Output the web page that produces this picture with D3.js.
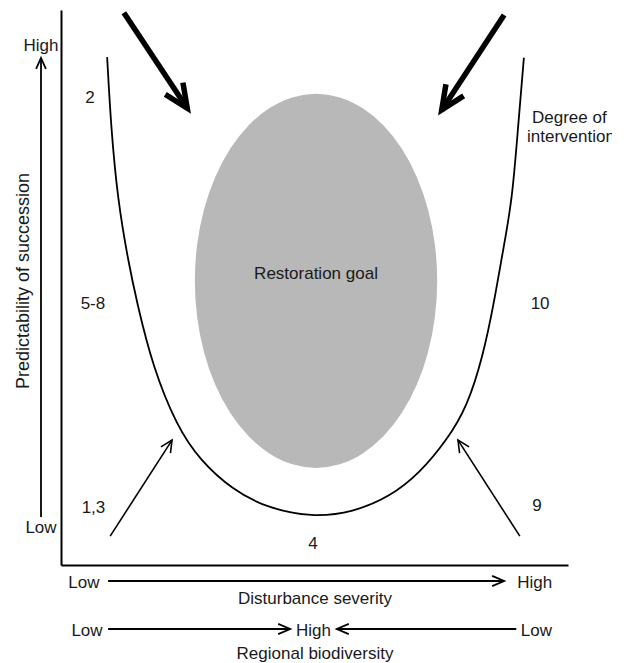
<!DOCTYPE html>
<html>
<head>
<meta charset="utf-8">
<script src="https://cdn.jsdelivr.net/npm/d3@7"></script>
<style>
  body { margin: 0; background: #fff; }
  text { font-family: "Liberation Sans", Arial, sans-serif; fill: #1a1a1a; }
</style>
</head>
<body>
<svg id="chart"></svg>
<script>
// U-shaped boundary (x = disturbance severity, y = predictability), 0-100 units
const curveX = [9.1, 9.9, 11.2, 13.2, 15.0, 18.1, 22.9, 27.4, 33.9, 40.6, 49.5, 57.6, 64.9, 70.8, 76.1, 80.1, 83.2, 85.4, 87.2, 89.0, 90.1, 91.3];
const curveY = [91.5, 78.4, 65.8, 55.0, 47.2, 35.7, 24.9, 18.9, 13.5, 10.3, 8.6, 9.5, 12.3, 16.6, 22.5, 28.5, 37.5, 47.2, 56.8, 65.8, 78.4, 91.4];

// restoration goal ellipse
const goal = { cx: 50.3, cy: 51.2, rx: 23.9, ry: 33.7, label: "Restoration goal" };

// arrows: [x1, y1, x2, y2]
const thickArrows = [[12.4, 99.5, 24.9, 82.3], [87.4, 99.1, 75.1, 82.0]];
const thinArrows = [[9.7, 5.2, 21.9, 22.5], [90.5, 5.2, 78.3, 22.5]];

// numbered labels
const numLabels = ["2", "5-8", "1,3", "4", "9", "10"];
const numX = [5.7, 6.3, 6.4, 49.7, 93.9, 94.5];
const numY = [84.3, 47.2, 10.3, 3.8, 10.8, 47.2];

const interventionLines = ["Degree of", "intervention"];

const width = 626;
const height = 663;
const margin = { top: 10, right: 58, bottom: 98, left: 61 };

const svg = d3.select("#chart").attr("width", width).attr("height", height);

const x = d3.scaleLinear().domain([0, 100]).range([margin.left, width - margin.right]);
const y = d3.scaleLinear().domain([0, 100]).range([height - margin.bottom, margin.top]);

// arrow helper: line plus open chevron head
function arrow(g, x1, y1, x2, y2, sw, headLen, headAng) {
  const a = Math.atan2(y2 - y1, x2 - x1);
  g.append("line")
    .attr("x1", x1).attr("y1", y1).attr("x2", x2).attr("y2", y2)
    .attr("stroke", "#000").attr("stroke-width", sw);
  const pts = [
    [x2 - headLen * Math.cos(a - headAng), y2 - headLen * Math.sin(a - headAng)],
    [x2, y2],
    [x2 - headLen * Math.cos(a + headAng), y2 - headLen * Math.sin(a + headAng)]
  ];
  g.append("path")
    .attr("d", d3.line()(pts))
    .attr("fill", "none")
    .attr("stroke", "#000")
    .attr("stroke-width", sw)
    .attr("stroke-linejoin", "miter");
}

// axes (no ticks, just the lines)
svg.append("g")
  .attr("transform", `translate(0,${y(0)})`)
  .call(d3.axisBottom(x).ticks(0).tickSizeOuter(0))
  .select(".domain").attr("stroke-width", 2);

svg.append("g")
  .attr("transform", `translate(${x(0)},0)`)
  .call(d3.axisLeft(y).ticks(0).tickSizeOuter(0))
  .select(".domain").attr("stroke-width", 2);

// ellipse
svg.append("ellipse")
  .attr("cx", x(goal.cx))
  .attr("cy", y(goal.cy))
  .attr("rx", x(goal.rx) - x(0))
  .attr("ry", y(0) - y(goal.ry))
  .attr("fill", "#b8b8b8");

svg.append("text")
  .attr("x", x(goal.cx))
  .attr("y", y(goal.cy) - 7)
  .attr("text-anchor", "middle")
  .attr("dominant-baseline", "central")
  .style("font-size", "17px")
  .text(goal.label);

// U curve
const line = d3.line()
  .x((d, i) => x(curveX[i]))
  .y((d, i) => y(curveY[i]))
  .curve(d3.curveBasis);

svg.append("path")
  .datum(curveX)
  .attr("fill", "none")
  .attr("stroke", "#000")
  .attr("stroke-width", 1.8)
  .attr("d", line);

// arrows
const ag = svg.append("g");
thickArrows.forEach(d => arrow(ag, x(d[0]), y(d[1]), x(d[2]), y(d[3]), 5.5, 26, 0.42));
thinArrows.forEach(d => arrow(ag, x(d[0]), y(d[1]), x(d[2]), y(d[3]), 1.6, 13, 0.45));

// numbers
numLabels.forEach((t, i) => {
  svg.append("text")
    .attr("x", x(numX[i]))
    .attr("y", y(numY[i]))
    .attr("text-anchor", "middle")
    .attr("dominant-baseline", "central")
    .style("font-size", "17px")
    .text(t);
});

// degree of intervention (figure is cropped on the right edge)
svg.append("clipPath").attr("id", "crop")
  .append("rect").attr("x", 0).attr("y", 0).attr("width", 612).attr("height", height);
const ig = svg.append("g").attr("clip-path", "url(#crop)");
interventionLines.forEach((t, i) => {
  ig.append("text")
    .attr("x", i === 0 ? 532 : 527)
    .attr("y", 117 + i * 19)
    .attr("dominant-baseline", "central")
    .style("font-size", "17px")
    .text(t);
});

// y-axis arrow and labels
arrow(svg, 41, 517, 41, 58, 1.8, 12, 0.42);
svg.append("text").attr("x", 41).attr("y", 45)
  .attr("text-anchor", "middle").attr("dominant-baseline", "central")
  .style("font-size", "17px").text("High");
svg.append("text").attr("x", 41).attr("y", 527)
  .attr("text-anchor", "middle").attr("dominant-baseline", "central")
  .style("font-size", "17px").text("Low");
svg.append("text")
  .attr("transform", `translate(23,${281}) rotate(-90)`)
  .attr("text-anchor", "middle")
  .attr("dominant-baseline", "central")
  .style("font-size", "18px")
  .text("Predictability of succession");

// disturbance severity row
const row1 = 581;
arrow(svg, x(9.3), row1, x(87.4), row1, 1.8, 13, 0.4);
svg.append("text").attr("x", x(7.6)).attr("y", row1 + 1)
  .attr("text-anchor", "end").attr("dominant-baseline", "central")
  .style("font-size", "17px").text("Low");
svg.append("text").attr("x", x(90)).attr("y", row1 + 1)
  .attr("text-anchor", "start").attr("dominant-baseline", "central")
  .style("font-size", "17px").text("High");
svg.append("text").attr("x", x(50.1)).attr("y", 598)
  .attr("text-anchor", "middle").attr("dominant-baseline", "central")
  .style("font-size", "17px").text("Disturbance severity");

// regional biodiversity row
const row2 = 629;
arrow(svg, x(9.3), row2, x(45.2), row2, 1.8, 13, 0.4);
arrow(svg, x(89.8), row2, x(54.4), row2, 1.8, 13, 0.4);
svg.append("text").attr("x", x(8.2)).attr("y", row2 + 1)
  .attr("text-anchor", "end").attr("dominant-baseline", "central")
  .style("font-size", "17px").text("Low");
svg.append("text").attr("x", x(49.8)).attr("y", row2 + 1)
  .attr("text-anchor", "middle").attr("dominant-baseline", "central")
  .style("font-size", "17px").text("High");
svg.append("text").attr("x", x(90.7)).attr("y", row2 + 1)
  .attr("text-anchor", "start").attr("dominant-baseline", "central")
  .style("font-size", "17px").text("Low");
svg.append("text").attr("x", x(50.1)).attr("y", 653)
  .attr("text-anchor", "middle").attr("dominant-baseline", "central")
  .style("font-size", "17px").text("Regional biodiversity");
</script>
</body>
</html>
